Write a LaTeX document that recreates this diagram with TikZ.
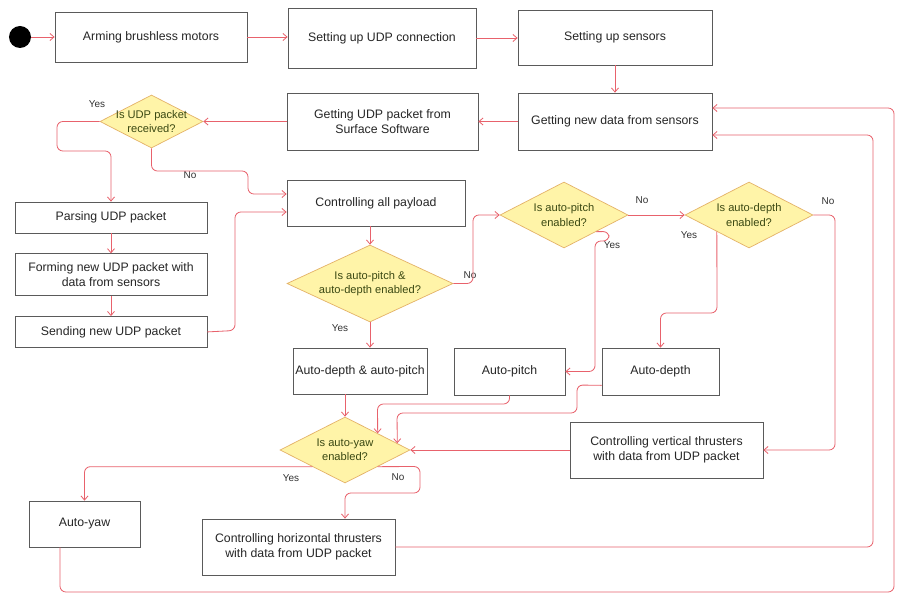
\documentclass[tikz,border=0pt]{standalone}
\usepackage{fontspec}
\setmainfont{Liberation Sans}
\usetikzlibrary{positioning, arrows.meta, shapes.geometric, calc}

\definecolor{flowred}{RGB}{232,98,108}
\definecolor{decfill}{RGB}{255,244,168}
\definecolor{decedge}{RGB}{228,178,104}
\definecolor{dectext}{RGB}{58,72,18}
\definecolor{boxedge}{RGB}{90,90,90}

\begin{document}
\begin{tikzpicture}[
    x=0.03cm, y=-0.03cm,
    box/.style={draw=boxedge, rectangle, line width=0.6pt, align=center, inner sep=2pt, font=\fontsize{10.5}{13}\selectfont, text=black!85},
    decision/.style={diamond, draw=decedge, fill=decfill, line width=0.6pt, inner sep=0pt},
    dtext/.style={align=center, font=\fontsize{9.5}{12}\selectfont, text=dectext},
    arrow/.style={-{Straight Barb[length=3.5pt,width=6pt]}, draw=flowred, line width=0.7pt, rounded corners=5pt},
    lbl/.style={font=\fontsize{8.5}{10}\selectfont, text=black!80, inner sep=1pt}
]
\useasboundingbox[fill=white] (0,0) rectangle (897,596);

% start and setup chain
\node[circle, fill=black, minimum size=0.66cm, inner sep=0pt] (start) at (20,37) {};
\node[box, minimum width=5.76cm, minimum height=1.5cm] (arm) at (151,37) {Arming brushless motors};
\node[box, minimum width=5.64cm, minimum height=1.8cm] (udp) at (382,38) {Setting up UDP connection};
\node[box, minimum width=5.82cm, minimum height=1.65cm] (sens) at (615,37.5) {Setting up sensors};
\node[box, minimum width=5.82cm, minimum height=1.71cm] (newdata) at (615,121.5) {Getting new data from sensors};
\node[box, minimum width=5.73cm, minimum height=1.71cm] (getudp) at (382.5,121.5) {Getting UDP packet from\\Surface Software};
\node[decision, minimum width=3.09cm, minimum height=1.59cm,
      label={[dtext, name=qudpt]center:{Is UDP packet\\received?}}] (qudp) at (151.5,121.5) {};

% packet handling
\node[box, minimum width=5.76cm, minimum height=0.93cm] (parse) at (111,217.5) {Parsing UDP packet};
\node[box, minimum width=5.76cm, minimum height=1.26cm] (form) [below=0.6cm of parse] {Forming new UDP packet with\\data from sensors};
\node[box, minimum width=5.76cm, minimum height=0.93cm] (send) [below=0.6cm of form] {Sending new UDP packet};
\node[box, minimum width=5.34cm, minimum height=1.38cm] (payload) at (376,203) {Controlling all payload};

% pitch / depth
\node[decision, minimum width=4.98cm, minimum height=2.31cm,
      label={[dtext, name=qbotht]center:{Is auto-pitch \&\\auto-depth enabled?}}] (qboth) at (370,283.5) {};
\node[decision, minimum width=3.84cm, minimum height=1.98cm,
      label={[dtext, name=qpitcht]center:{Is auto-pitch\\enabled?}}] (qpitch) at (564,215) {};
\node[decision, minimum width=3.84cm, minimum height=1.98cm,
      label={[dtext, name=qdeptht]center:{Is auto-depth\\enabled?}}] (qdepth) at (749,215) {};
\node[box, minimum width=4.02cm, minimum height=1.38cm] (adap) at (360,371) {Auto-depth \& auto-pitch};
\node[box, minimum width=3.33cm, minimum height=1.41cm] (apitch) at (509.5,371.5) {Auto-pitch};
\node[box, minimum width=3.51cm, minimum height=1.41cm] (adepth) at (660.5,371.5) {Auto-depth};
\node[box, minimum width=5.79cm, minimum height=1.68cm] (vert) at (666.5,450) {Controlling vertical thrusters\\with data from UDP packet};

% yaw
\node[decision, minimum width=3.9cm, minimum height=1.98cm,
      label={[dtext, name=qyawt]center:{Is auto-yaw\\enabled?}}] (qyaw) at (345,450) {};
\node[box, minimum width=3.33cm, minimum height=1.38cm] (ayaw) at (84.5,524) {Auto-yaw};
\node[box, minimum width=5.79cm, minimum height=1.68cm] (horiz) at (298.5,547) {Controlling horizontal thrusters\\with data from UDP packet};

% labels
\node[lbl] (yes1) at (97,104) {Yes};
\node[lbl] (no1) at (190,175) {No};
\node[lbl] (yes2) at (340,328) {Yes};
\node[lbl] (no2) at (470,275) {No};
\node[lbl] (no3) at (642,200) {No};
\node[lbl] (yes3) at (612,245) {Yes};
\node[lbl] (yes4) at (689,235) {Yes};
\node[lbl] (no4) at (828,201) {No};
\node[lbl] (yes5) at (291,478) {Yes};
\node[lbl] (no5) at (398,477) {No};

% connectors
\draw[arrow] (start) -- (arm);
\draw[arrow] (arm.east) -- (arm.east -| udp.west);
\draw[arrow] (udp.east) -- (udp.east -| sens.west);
\draw[arrow] (sens) -- (newdata);
\draw[arrow] (newdata) -- (getudp);
\draw[arrow] (getudp) -- (qudp);
\draw[arrow] (qudp.west) -- (57,121.5) -- (57,151) -- (111,151) -- (parse);
\draw[arrow] (qudp.south) -- (151.5,171) -- (248,171) -- (248,194) -- ($(payload.west)+(0,-9)$);
\draw[arrow] (parse) -- (form);
\draw[arrow] (form) -- (send);
\draw[arrow] (send.east) -- (235,330.5) -- (235,212) -- ($(payload.west)+(0,9)$);
\draw[arrow] (payload.south -| qboth.north) -- (qboth.north);
\draw[arrow] (qboth.south) -- (qboth.south |- adap.north);
\draw[arrow] (qboth.east) -- (473,283.5) -- (473,215) -- (qpitch.west);
\draw[arrow] (qpitch) -- (qdepth);
\draw[arrow] (qpitch.south east) -- (609,231.5) -- (609,241) -- (595,241) -- (595,371.5) -- (apitch.east);
\draw[arrow] (qdepth.south west) -- (717,313) -- (660.5,313) -- (adepth.north);
\draw[arrow] (qdepth.east) -- (835,215) -- (835,450) -- (vert.east);
\draw[arrow] (qyaw.north |- adap.south) -- (qyaw.north);
\draw[arrow] (apitch.south) -- (509.5,404) -- (377.5,404) -- (qyaw.north east);
\draw[arrow] ($(adepth.south west)+(0,-10)$) -- (577,385) -- (577,413) -- (397,413) -- ($(qyaw.north east)!0.6!(qyaw.east)$);
\draw[arrow] (vert.west) -- (vert.west -| qyaw.east);
\draw[arrow] (qyaw.south west) -| (ayaw.north);
\draw[arrow] (qyaw.south east) -- (420,466.5) -- (420,493) -- (345,493) -- (qyaw.south |- horiz.north);
\draw[arrow] (horiz.east) -- (873,547) -- (873,135) -- ($(newdata.east)+(0,13.5)$);
\draw[arrow] ($(ayaw.south)+(-24.5,0)$) -- (60,592) -- (894,592) -- (894,108) -- ($(newdata.east)+(0,-13.5)$);

\end{tikzpicture}
\end{document}
